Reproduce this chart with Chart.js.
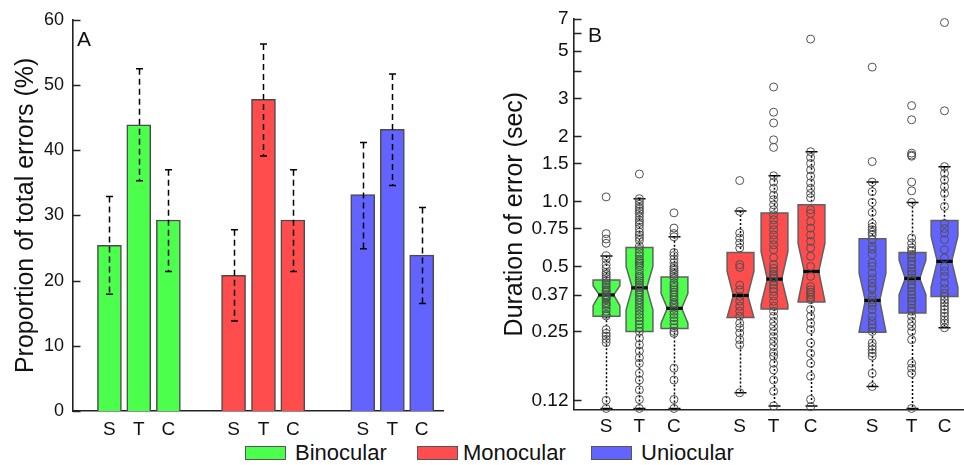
<!DOCTYPE html>
<html><head><meta charset="utf-8">
<script src="https://cdn.jsdelivr.net/npm/chart.js@4/dist/chart.umd.min.js"></script>
<style>
html,body{margin:0;padding:0;background:#fff;width:964px;height:465px;overflow:hidden;position:relative;font-family:"Liberation Sans",Arial,sans-serif;}
#cA{position:absolute;left:0;top:0;}
#cB{position:absolute;left:480px;top:0;}
.sw{position:absolute;top:446px;width:41px;height:14px;box-sizing:border-box;border:1.5px solid #555;}
.lt{position:absolute;top:442px;font-size:22px;line-height:22px;color:#111;white-space:nowrap;}
</style></head>
<body>
<canvas id="cA" width="480" height="440"></canvas>
<canvas id="cB" width="520" height="440"></canvas>
<div id="legend"></div>
<script>
// ---------- data ----------
const groups = ['Binocular', 'Monocular', 'Uniocular'];
const conditions = ['S', 'T', 'C'];

// Panel A: proportion of total errors (%)
const binoPct = [25.4, 43.9, 29.3];
const monoPct = [20.8, 47.8, 29.3];
const uniPct  = [33.2, 43.2, 23.9];
const binoErrLo = [17.9, 35.3, 21.4];
const binoErrHi = [32.9, 52.5, 37.0];
const monoErrLo = [13.8, 39.1, 21.4];
const monoErrHi = [27.8, 56.3, 37.0];
const uniErrLo  = [24.9, 34.6, 16.5];
const uniErrHi  = [41.2, 51.7, 31.2];
const yTicksA = [0, 10, 20, 30, 40, 50, 60];

// Panel B: duration of error (sec), boxes ordered Bino S,T,C, Mono S,T,C, Uni S,T,C
const boxWhiskLo = [0.11, 0.11, 0.11, 0.13, 0.113, 0.113, 0.139, 0.11, 0.26];
const boxQ1      = [0.294, 0.25, 0.258, 0.29, 0.318, 0.342, 0.248, 0.304, 0.363];
const boxNotchLo = [0.329, 0.315, 0.273, 0.29, 0.333, 0.345, 0.25, 0.37, 0.40];
const boxMedian  = [0.369, 0.398, 0.32, 0.367, 0.437, 0.474, 0.348, 0.44, 0.528];
const boxNotchHi = [0.407, 0.50, 0.375, 0.474, 0.585, 0.64, 0.466, 0.535, 0.69];
const boxQ3      = [0.433, 0.612, 0.447, 0.58, 0.884, 0.965, 0.672, 0.58, 0.817];
const boxWhiskHi = [0.559, 1.03, 0.686, 0.903, 1.315, 1.70, 1.23, 0.99, 1.45];

const ptsBinoS = [1.05, 0.71, 0.67, 0.64, 0.56, 0.54, 0.51, 0.49, 0.47, 0.46, 0.45, 0.44, 0.43, 0.42, 0.41, 0.40, 0.39, 0.385, 0.38, 0.37, 0.365, 0.36, 0.355, 0.35, 0.34, 0.335, 0.33, 0.32, 0.31, 0.30, 0.295, 0.255, 0.245, 0.238, 0.23, 0.222, 0.12, 0.11];
const ptsBinoT = [1.34, 1.03, 1.0, 0.97, 0.94, 0.92, 0.90, 0.88, 0.85, 0.82, 0.80, 0.78, 0.75, 0.72, 0.70, 0.68, 0.66, 0.62, 0.60, 0.58, 0.56, 0.54, 0.53, 0.52, 0.51, 0.50, 0.48, 0.46, 0.45, 0.44, 0.43, 0.42, 0.41, 0.40, 0.39, 0.38, 0.37, 0.36, 0.35, 0.34, 0.33, 0.32, 0.31, 0.30, 0.29, 0.28, 0.27, 0.26, 0.25, 0.233, 0.217, 0.203, 0.189, 0.178, 0.16, 0.149, 0.134, 0.121, 0.11];
const ptsBinoC = [0.886, 0.753, 0.71, 0.686, 0.58, 0.56, 0.54, 0.52, 0.50, 0.49, 0.48, 0.47, 0.46, 0.45, 0.44, 0.42, 0.41, 0.40, 0.39, 0.38, 0.37, 0.36, 0.35, 0.34, 0.335, 0.33, 0.32, 0.31, 0.30, 0.29, 0.28, 0.27, 0.26, 0.25, 0.245, 0.169, 0.149, 0.121, 0.11];
const ptsMonoS = [1.25, 0.90, 0.714, 0.677, 0.642, 0.609, 0.51, 0.495, 0.41, 0.39, 0.363, 0.345, 0.327, 0.31, 0.294, 0.273, 0.26, 0.246, 0.229, 0.217, 0.13];
const ptsMonoT = [3.39, 2.59, 2.31, 1.93, 1.78, 1.315, 1.23, 1.15, 1.07, 1.02, 0.965, 0.915, 0.868, 0.823, 0.78, 0.74, 0.70, 0.665, 0.63, 0.598, 0.55, 0.51, 0.49, 0.474, 0.46, 0.45, 0.44, 0.426, 0.41, 0.395, 0.383, 0.365, 0.345, 0.327, 0.31, 0.294, 0.278, 0.264, 0.25, 0.237, 0.225, 0.213, 0.20, 0.192, 0.178, 0.166, 0.149, 0.132, 0.113];
const ptsMonoC = [5.65, 1.70, 1.60, 1.50, 1.40, 1.31, 1.22, 1.15, 1.09, 1.04, 0.915, 0.88, 0.808, 0.753, 0.70, 0.653, 0.609, 0.557, 0.50, 0.45, 0.404, 0.39, 0.38, 0.37, 0.36, 0.351, 0.316, 0.294, 0.273, 0.255, 0.221, 0.198, 0.178, 0.155, 0.121, 0.112];
const ptsUniS  = [4.19, 1.53, 1.23, 1.11, 0.99, 0.89, 0.79, 0.76, 0.74, 0.72, 0.70, 0.665, 0.62, 0.60, 0.567, 0.52, 0.50, 0.466, 0.44, 0.419, 0.40, 0.39, 0.363, 0.35, 0.339, 0.33, 0.316, 0.294, 0.28, 0.269, 0.26, 0.25, 0.221, 0.213, 0.206, 0.199, 0.192, 0.16, 0.139];
const ptsUniT  = [2.78, 2.39, 1.675, 1.64, 1.62, 1.23, 1.12, 0.99, 0.677, 0.64, 0.609, 0.59, 0.567, 0.55, 0.53, 0.51, 0.49, 0.474, 0.46, 0.442, 0.43, 0.412, 0.40, 0.383, 0.37, 0.357, 0.345, 0.333, 0.32, 0.31, 0.294, 0.278, 0.264, 0.25, 0.229, 0.178, 0.169, 0.16, 0.11];
const ptsUniC  = [6.74, 2.63, 1.45, 1.35, 1.26, 1.17, 1.09, 0.948, 0.79, 0.75, 0.714, 0.665, 0.598, 0.547, 0.50, 0.475, 0.45, 0.419, 0.395, 0.376, 0.363, 0.35, 0.339, 0.327, 0.316, 0.305, 0.294, 0.283, 0.273, 0.26];

const yTicksB = [0.12, 0.25, 0.37, 0.5, 0.75, 1, 1.5, 2, 3, 4, 5, 6, 7];
const yTickLabelsB = ['0.12', '0.25', '0.37', '0.5', '0.75', '1.0', '1.5', '2', '3', '', '5', '', '7'];

// ---------- layout / style (not data) ----------
const FONT = '"Liberation Sans", Arial, sans-serif';
const groupColors = ['#4cff4c', '#ff4c4c', '#6363ff'];
const xPosA = [1.23, 2.22, 3.22, 5.42, 6.43, 7.42, 9.78, 10.78, 11.77];
const xPosB = [0.93, 1.89, 2.89, 4.79, 5.77, 6.84, 8.62, 9.76, 10.71];
const TXT = '#111', AX = '#222';

const pctSets = [binoPct, monoPct, uniPct];
const errLoSets = [binoErrLo, monoErrLo, uniErrLo];
const errHiSets = [binoErrHi, monoErrHi, uniErrHi];
const ptSets = [ptsBinoS, ptsBinoT, ptsBinoC, ptsMonoS, ptsMonoT, ptsMonoC, ptsUniS, ptsUniT, ptsUniC];
const condLabels = xPosA.map((_, i) => conditions[i % 3]);

// legend (HTML, real text)
const lg = document.getElementById('legend');
const swLeft = [245, 417, 591], txLeft = [295, 463, 641];
groups.forEach((g, i) => {
  const s = document.createElement('div'); s.className = 'sw';
  s.style.left = swLeft[i] + 'px'; s.style.background = groupColors[i]; lg.appendChild(s);
  const t = document.createElement('div'); t.className = 'lt';
  t.style.left = txLeft[i] + 'px'; t.textContent = g; lg.appendChild(t);
});

// inward tick marks on y axis
const inwardTicks = {
  id: 'inwardTicks',
  afterDraw(chart) {
    const {ctx, chartArea, scales: {y}} = chart;
    ctx.save(); ctx.strokeStyle = AX; ctx.lineWidth = 1.5;
    y.ticks.forEach(t => {
      const py = Math.round(y.getPixelForValue(t.value)) + 0.5;
      ctx.beginPath(); ctx.moveTo(chartArea.left, py); ctx.lineTo(chartArea.left + 7.5, py); ctx.stroke();
    });
    ctx.restore();
  }
};
function panelLabel(txt, dx, dy) {
  return {
    id: 'panelLabel',
    afterDraw(chart) {
      const {ctx, chartArea} = chart;
      ctx.save(); ctx.fillStyle = TXT; ctx.font = '21px ' + FONT; ctx.textBaseline = 'alphabetic';
      ctx.fillText(txt, chartArea.left + dx, chartArea.top + dy); ctx.restore();
    }
  };
}

// error bars (panel A)
const errorBars = {
  id: 'errorBars',
  afterDatasetsDraw(chart) {
    const {ctx, scales: {x, y}} = chart;
    ctx.save(); ctx.strokeStyle = '#000'; ctx.lineWidth = 1.5;
    for (let g = 0; g < 3; g++) for (let c = 0; c < 3; c++) {
      const px = Math.round(x.getPixelForValue(xPosA[g * 3 + c])) + 0.5;
      const lo = y.getPixelForValue(errLoSets[g][c]);
      const hi = y.getPixelForValue(errHiSets[g][c]);
      ctx.setLineDash([6, 4]);
      ctx.beginPath(); ctx.moveTo(px, hi); ctx.lineTo(px, lo); ctx.stroke();
      ctx.setLineDash([]);
      ctx.beginPath(); ctx.moveTo(px - 3.5, hi); ctx.lineTo(px + 3.5, hi);
      ctx.moveTo(px - 3.5, lo); ctx.lineTo(px + 3.5, lo); ctx.stroke();
    }
    ctx.restore();
  }
};

// notched boxes (panel B)
const notchedBoxes = {
  id: 'notchedBoxes',
  beforeDatasetsDraw(chart) {
    const {ctx, scales: {x, y}} = chart;
    ctx.save();
    for (let i = 0; i < 9; i++) {
      const cx = Math.round(x.getPixelForValue(xPosB[i])) + 0.5;
      const hw = 13.4, nw = 7.2, cw = 6;
      const yWl = y.getPixelForValue(boxWhiskLo[i]), yWh = y.getPixelForValue(boxWhiskHi[i]);
      const yq1 = y.getPixelForValue(boxQ1[i]), yq3 = y.getPixelForValue(boxQ3[i]);
      const ynl = y.getPixelForValue(boxNotchLo[i]), ynh = y.getPixelForValue(boxNotchHi[i]);
      const ym = y.getPixelForValue(boxMedian[i]);
      // whiskers
      ctx.strokeStyle = '#000'; ctx.lineWidth = 1.5; ctx.setLineDash([2, 2]);
      ctx.beginPath(); ctx.moveTo(cx, yWh); ctx.lineTo(cx, yq3); ctx.moveTo(cx, yq1); ctx.lineTo(cx, yWl); ctx.stroke();
      ctx.setLineDash([]);
      ctx.beginPath(); ctx.moveTo(cx - cw, yWh); ctx.lineTo(cx + cw, yWh);
      ctx.moveTo(cx - cw, yWl); ctx.lineTo(cx + cw, yWl); ctx.stroke();
      // box
      ctx.beginPath();
      ctx.moveTo(cx - hw, yq3); ctx.lineTo(cx + hw, yq3); ctx.lineTo(cx + hw, ynh);
      ctx.lineTo(cx + nw, ym); ctx.lineTo(cx + hw, ynl); ctx.lineTo(cx + hw, yq1);
      ctx.lineTo(cx - hw, yq1); ctx.lineTo(cx - hw, ynl); ctx.lineTo(cx - nw, ym);
      ctx.lineTo(cx - hw, ynh); ctx.closePath();
      ctx.fillStyle = groupColors[Math.floor(i / 3)]; ctx.fill();
      ctx.strokeStyle = '#606060'; ctx.lineWidth = 1.5; ctx.stroke();
      // median
      ctx.strokeStyle = '#000'; ctx.lineWidth = 3.2;
      ctx.beginPath(); ctx.moveTo(cx - nw - 1, ym); ctx.lineTo(cx + nw + 1, ym); ctx.stroke();
    }
    ctx.restore();
  }
};

const titleFont = {size: 25, family: FONT};

// ---------- Chart A ----------
new Chart(document.getElementById('cA'), {
  type: 'bar',
  data: {
    datasets: groups.map((g, gi) => ({
      label: g,
      data: conditions.map((c, ci) => ({x: xPosA[gi * 3 + ci], y: pctSets[gi][ci]})),
      backgroundColor: groupColors[gi],
      borderColor: '#4a4a4a',
      borderWidth: 1.5,
      barThickness: 24,
      grouped: false
    }))
  },
  options: {
    responsive: false, animation: false,
    layout: {padding: {top: 19, right: 36.7, left: 0, bottom: 0}},
    plugins: {legend: {display: false}, tooltip: {enabled: false}},
    scales: {
      x: {
        type: 'linear', min: 0, max: 12.5, offset: false,
        grid: {display: false, drawTicks: false},
        border: {display: true, color: AX, width: 1.6},
        afterBuildTicks: s => { s.ticks = xPosA.map(v => ({value: v})); },
        afterFit: s => { s.height = 29; },
        ticks: {autoSkip: false, maxRotation: 0, padding: 7, color: TXT, font: {size: 19, family: FONT},
                callback: (v, i) => condLabels[i]}
      },
      y: {
        type: 'linear', min: 0, max: 60,
        grid: {display: false, drawTicks: false},
        border: {display: true, color: AX, width: 1.6},
        afterBuildTicks: s => { s.ticks = yTicksA.map(v => ({value: v})); },
        afterFit: s => { s.width = 73; },
        ticks: {autoSkip: false, padding: 9, color: TXT, font: {size: 18, family: FONT}, callback: v => String(v)},
        title: {display: true, text: 'Proportion of total errors (%)', color: TXT, font: titleFont,
                padding: {top: 11, bottom: 0}}
      }
    }
  },
  plugins: [errorBars, inwardTicks, panelLabel('A', 4, 26)]
});

// ---------- Chart B ----------
new Chart(document.getElementById('cB'), {
  type: 'scatter',
  data: {
    datasets: ptSets.map((pts, i) => ({
      label: groups[Math.floor(i / 3)] + ' ' + conditions[i % 3],
      data: pts.map(v => ({x: xPosB[i], y: v})),
      pointRadius: 4,
      pointBorderWidth: 1,
      pointBorderColor: '#505050',
      pointBackgroundColor: 'rgba(0,0,0,0)',
      showLine: false,
      clip: false
    }))
  },
  options: {
    responsive: false, animation: false,
    layout: {padding: {top: 19, right: 0, left: 0, bottom: 0}},
    plugins: {legend: {display: false}, tooltip: {enabled: false}},
    scales: {
      x: {
        type: 'linear', min: 0, max: 12.17, offset: false,
        grid: {display: false, drawTicks: false},
        border: {display: true, color: AX, width: 1.6},
        afterBuildTicks: s => { s.ticks = xPosB.map(v => ({value: v})); },
        afterFit: s => { s.height = 30.7; },
        ticks: {autoSkip: false, maxRotation: 0, padding: 6, color: TXT, font: {size: 19, family: FONT},
                callback: (v, i) => condLabels[i]}
      },
      y: {
        type: 'logarithmic', min: 0.109, max: 7, bounds: 'data',
        grid: {display: false, drawTicks: false},
        border: {display: true, color: AX, width: 1.6},
        afterBuildTicks: s => { s.ticks = yTicksB.map(v => ({value: v})); },
        afterFit: s => { s.width = 94; },
        ticks: {autoSkip: false, padding: 5.5, color: TXT, font: {size: 19, family: FONT},
                callback: (v, i) => yTickLabelsB[i]},
        title: {display: true, text: 'Duration of error (sec)', color: TXT, font: titleFont,
                padding: {top: 20, bottom: 0}}
      }
    }
  },
  plugins: [notchedBoxes, inwardTicks, panelLabel('B', 14, 23)]
});
</script>
</body></html>
